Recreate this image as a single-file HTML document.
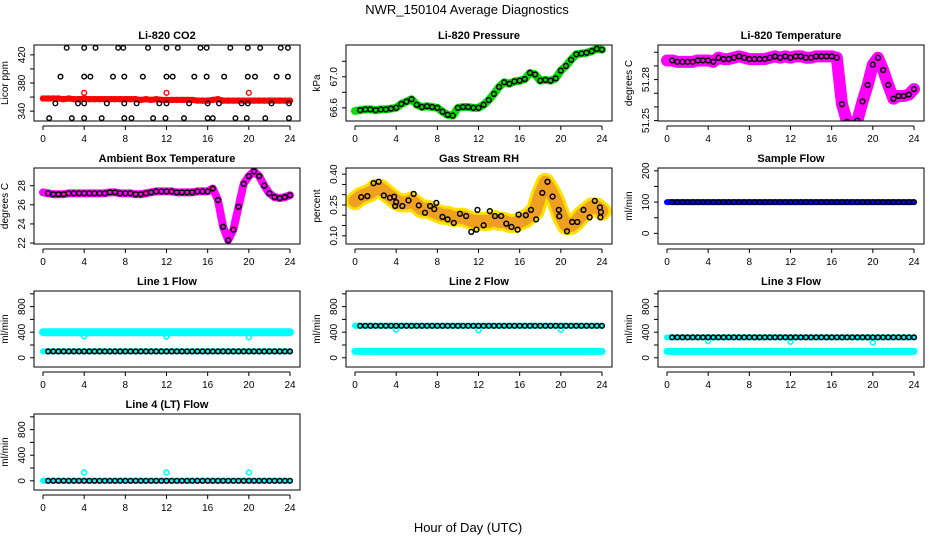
<!DOCTYPE html>
<html><head><meta charset="utf-8">
<style>
html,body{margin:0;padding:0;background:#fff;}
svg{display:block;font-family:"Liberation Sans",sans-serif;}
</style></head>
<body>
<svg id="chart" width="936" height="540" viewBox="0 0 936 540" xmlns="http://www.w3.org/2000/svg">
<text x="467" y="14" text-anchor="middle" font-size="13">NWR_150104  Average Diagnostics</text>
<text x="468" y="532" text-anchor="middle" font-size="13">Hour of Day (UTC)</text>
</svg>
<script>
const hours = [0,0.5,1,1.5,2,2.5,3,3.5,4,4.5,5,5.5,6,6.5,7,7.5,8,8.5,9,9.5,10,10.5,11,11.5,12,12.5,13,13.5,14,14.5,15,15.5,16,16.5,17,17.5,18,18.5,19,19.5,20,20.5,21,21.5,22,22.5,23,23.5,24];
const xTicks = [0,4,8,12,16,20,24];

// CO2
const co2Red = [358,358,358,358,357,358,357,357,358,357,357,357,357,357,357,357,357,357,357,356,357,356,357,356,356,356,356,356,356,356,355,355,355,356,357,355,355,355,355,355,355,355,355,355,355,355,355,355,355];
const co2RedSpikeHours = [4,12,20];
const co2RedSpikeValues = [366,366,366];
const co2BlackHours = [2.3,4,5.1,7.3,7.8,10.2,12,13.1,15.3,15.9,18.2,19.9,21.1,23.1,23.8, 1.7,4,4.6,6.8,7.9,9.7,12,12.6,14.7,15.9,17.6,19.9,20.6,22.7,23.8, 1.2,3.4,4,6.2,7.9,9.1,11.3,12,14.2,16,17.1,19.3,19.9,22.2,23.9, 0.6,2.8,4,5.7,7.9,8.6,10.7,11.9,13.7,16,16.5,18.7,19.8,21.6,23.9];
const co2BlackValues = [430,430,430,430,430,430,430,430,430,430,430,430,430,430,430, 389,389,389,389,389,389,389,389,389,389,389,389,389,389,389, 351,351,351,351,351,351,351,351,351,351,351,351,351,351,351, 330,330,330,330,330,330,330,330,330,330,330,330,330,330,330];

// Pressure
const pressure = [66.56,66.57,66.58,66.58,66.57,66.58,66.58,66.59,66.60,66.65,66.68,66.71,66.64,66.61,66.62,66.61,66.60,66.55,66.51,66.50,66.60,66.61,66.61,66.60,66.60,66.64,66.70,66.78,66.87,66.93,66.91,66.94,66.95,66.97,67.05,67.03,66.95,66.96,66.95,66.98,67.08,67.14,67.22,67.29,67.30,67.31,67.33,67.36,67.35];

// Li-820 temperature
const licorTemp = [51.294,51.294,51.293,51.293,51.293,51.293,51.294,51.294,51.294,51.293,51.296,51.295,51.295,51.296,51.297,51.296,51.295,51.295,51.295,51.295,51.296,51.297,51.296,51.297,51.296,51.297,51.297,51.296,51.296,51.297,51.297,51.297,51.297,51.296,51.262,51.249,51.248,51.250,51.264,51.276,51.291,51.296,51.287,51.276,51.266,51.268,51.268,51.269,51.273];

// Ambient box temperature
const ambientTemp = [27.3,27.2,27.1,27.1,27.1,27.2,27.2,27.2,27.2,27.2,27.2,27.2,27.2,27.3,27.3,27.2,27.2,27.2,27.1,27.1,27.2,27.3,27.4,27.4,27.4,27.4,27.3,27.3,27.3,27.3,27.4,27.4,27.4,27.7,26.5,23.7,22.3,23.4,25.8,28.2,29.0,29.5,29.0,28.0,27.2,26.8,26.7,26.8,27.0];

// Gas stream RH
const rhBand = [0.27,0.29,0.30,0.31,0.33,0.33,0.31,0.29,0.27,0.26,0.26,0.27,0.25,0.23,0.23,0.22,0.21,0.20,0.20,0.19,0.19,0.19,0.18,0.17,0.17,0.17,0.17,0.18,0.17,0.17,0.16,0.16,0.17,0.18,0.20,0.22,0.30,0.36,0.32,0.27,0.20,0.15,0.15,0.17,0.20,0.22,0.24,0.24,0.22];
const rhBlackHours = [0.6,1.2,1.8,2.3,2.8,3.4,3.8,3.9,4,4.6,5.2,5.7,6.2,6.8,7.3,7.7,7.9,8.5,9.0,9.6,10.2,10.8,11.3,11.8,11.9,12.5,13.1,13.6,14.2,14.7,15.2,15.8,15.9,16.6,17.1,17.6,18.2,18.7,19.2,19.8,19.85,20.6,21.1,21.6,22.2,22.8,23.3,23.8,23.85,23.9];
const rhBlackValues = [0.288,0.293,0.356,0.363,0.296,0.285,0.29,0.245,0.264,0.245,0.272,0.304,0.248,0.212,0.245,0.23,0.26,0.192,0.18,0.163,0.207,0.196,0.119,0.13,0.226,0.151,0.22,0.196,0.196,0.159,0.143,0.13,0.203,0.2,0.226,0.18,0.309,0.363,0.291,0.226,0.195,0.122,0.167,0.167,0.226,0.19,0.27,0.238,0.19,0.215];

// Flows
const sampleFlow = [100,100,100,100,100,100,100,100,100,100,100,100,100,100,100,100,100,100,100,100,100,100,100,100,100,100,100,100,100,100,100,100,100,100,100,100,100,100,100,100,100,100,100,100,100,100,100,100,100];
const line1Cyan = [400,400,400,400,400,400,400,400,400,400,400,400,400,400,400,400,400,400,400,400,400,400,400,400,400,400,400,400,400,400,400,400,400,400,400,400,400,400,400,400,400,400,400,400,400,400,400,400,400];
const line1Black = [100,100,100,100,100,100,100,100,100,100,100,100,100,100,100,100,100,100,100,100,100,100,100,100,100,100,100,100,100,100,100,100,100,100,100,100,100,100,100,100,100,100,100,100,100,100,100,100,100];
const line1DipValues = [335,330,320];
const line2Cyan = [500,500,500,500,500,500,500,500,500,500,500,500,500,500,500,500,500,500,500,500,500,500,500,500,500,500,500,500,500,500,500,500,500,500,500,500,500,500,500,500,500,500,500,500,500,500,500,500,500];
const line2Low = [100,100,100,100,100,100,100,100,100,100,100,100,100,100,100,100,100,100,100,100,100,100,100,100,100,100,100,100,100,100,100,100,100,100,100,100,100,100,100,100,100,100,100,100,100,100,100,100,100];
const line2DipValues = [440,430,440];
const line3Black = [320,320,320,320,320,320,320,320,320,320,320,320,320,320,320,320,320,320,320,320,320,320,320,320,320,320,320,320,320,320,320,320,320,320,320,320,320,320,320,320,320,320,320,320,320,320,320,320,320];
const line3Low = [100,100,100,100,100,100,100,100,100,100,100,100,100,100,100,100,100,100,100,100,100,100,100,100,100,100,100,100,100,100,100,100,100,100,100,100,100,100,100,100,100,100,100,100,100,100,100,100,100];
const line3DipValues = [260,250,240];
const line4Black = [0,0,0,0,0,0,0,0,0,0,0,0,0,0,0,0,0,0,0,0,0,0,0,0,0,0,0,0,0,0,0,0,0,0,0,0,0,0,0,0,0,0,0,0,0,0,0,0,0];
const line4SpikeValues = [130,130,130];
const dipHours = [4,12,20];

const svg = document.getElementById('chart');
const NS = 'http://www.w3.org/2000/svg';
function mk(tag, attrs, parent){const e=document.createElementNS(NS,tag);for(const k in attrs)e.setAttribute(k,attrs[k]);(parent||svg).appendChild(e);return e;}

const colLeft=[34,346,658], rowTop=[45,168,291,414], BW=266, BH=76;
let clipId=0;
function makePanel(col,row,title,ylab,ymin,ymax,ticks,labels,name){
  const L=colLeft[col],T=rowTop[row],B=T+BH,R=L+BW;
  const g=mk('g',{});
  
  
  const xs=h=>L+9+h*(247/24);
  const ys=v=>B-(v-ymin)/(ymax-ymin)*BH;
  const t=mk('text',{x:(L+R)/2,y:T-6,'text-anchor':'middle','font-size':11,'font-weight':'bold'},g);
  t.textContent=title;
  
  
  const yl=mk('text',{x:0,y:0,'text-anchor':'middle','font-size':10,transform:`translate(${L-26},${(T+B)/2}) rotate(-90)`},g);
  yl.textContent=ylab;
  
  
  const xa=mk('line',{x1:xs(0),x2:xs(24),y1:B+5,y2:B+5,stroke:'#000'},g);
  
  
  xTicks.forEach(h=>{
    mk('line',{x1:xs(h),x2:xs(h),y1:B+5,y2:B+9,stroke:'#000'},g);
    const lt=mk('text',{x:xs(h),y:B+21,'text-anchor':'middle','font-size':10},g);
    lt.textContent=h;
    
    
  });
  const lo=ys(ticks[0]),hi=ys(ticks[ticks.length-1]);
  mk('line',{x1:L,x2:L,y1:lo,y2:hi,stroke:'#000'},g);
  ticks.forEach(v=>{
    mk('line',{x1:L-4,x2:L,y1:ys(v),y2:ys(v),stroke:'#000'},g);
  });
  labels.forEach(v=>{
    const lt=mk('text',{x:0,y:0,'text-anchor':'middle','font-size':10,transform:`translate(${L-9},${ys(v)}) rotate(-90)`},g);
    lt.textContent=v;
    
    
  });
  clipId++;
  const cp=mk('clipPath',{id:'c'+clipId},g);
  mk('rect',{x:L,y:T,width:BW,height:BH},cp);
  const plot=mk('g',{'clip-path':`url(#c${clipId})`},g);
  const box=mk('rect',{x:L,y:T,width:BW,height:BH,fill:'none',stroke:'#000'},g);
  
  
  return {xs,ys,plot};
}
function band(p,hs,vals,color,w,name){
  const pts=hs.map((h,i)=>p.xs(h)+','+p.ys(vals[i])).join(' ');
  const pl=mk('polyline',{points:pts,fill:'none',stroke:color,'stroke-width':w,'stroke-linejoin':'round','stroke-linecap':'round'},p.plot);
  
  
}
function circles(p,hs,vals,color,r,sw,name){
  hs.forEach((h,i)=>{
    const c=mk('circle',{cx:p.xs(h),cy:p.ys(vals[i]),r:r,fill:'none',stroke:color,'stroke-width':sw},p.plot);
    
    
  });
}
const hb=hours.slice(1);
const sub=a=>a.slice(1);

let p=makePanel(0,0,'Li-820 CO2','Licor ppm',326,434,[340,360,380,400,420],[340,380,420],'co2');
band(p,hours,co2Red,'#ff0000',6,'co2-red-band');
circles(p,hours,co2Red,'#ff0000',2.4,1.6,'co2-red-point');
circles(p,co2RedSpikeHours,co2RedSpikeValues,'#ff0000',2.4,1.4,'co2-red-spike');
circles(p,co2BlackHours,co2BlackValues,'#000',2.3,1.4,'co2-black-point');

p=makePanel(1,0,'Li-820 Pressure','kPa',66.43,67.41,[66.6,66.8,67.0,67.2],['66.6','67.0'],'pressure');
band(p,hours,pressure,'#00dd00',8,'pressure-green-band');
circles(p,hb,sub(pressure),'#000',2.4,1.5,'pressure-black-point');

p=makePanel(2,0,'Li-820 Temperature','degrees C',51.2497,51.3053,[51.25,51.26,51.27,51.28,51.29,51.30],['51.25','51.28'],'licor-temp');
band(p,hours,licorTemp,'#ff00ff',12,'licor-temp-magenta-band');
circles(p,hb,sub(licorTemp),'#000',2.4,1.5,'licor-temp-black-point');

p=makePanel(0,1,'Ambient Box Temperature','degrees C',21.9,29.85,[22,24,26,28],[22,24,26,28],'ambient-temp');
band(p,hours,ambientTemp,'#ff00ff',8,'ambient-magenta-band');
circles(p,hb,sub(ambientTemp),'#000',2.4,1.5,'ambient-black-point');

p=makePanel(1,1,'Gas Stream RH','percent',0.06,0.43,[0.10,0.15,0.20,0.25,0.30,0.35,0.40],['0.10','0.25','0.40'],'rh');
band(p,hours,rhBand,'#ffe000',19,'rh-yellow-band');
band(p,hours,rhBand,'#f0a020',13,'rh-orange-band');
circles(p,rhBlackHours,rhBlackValues,'#000',2.4,1.5,'rh-black-point');

p=makePanel(2,1,'Sample Flow','ml/min',-34,209,[0,50,100,150,200],[0,100,200],'sample-flow');
band(p,hours,sampleFlow,'#0000ff',6,'sample-blue-band');
circles(p,hb,sub(sampleFlow),'#000',2.3,1.4,'sample-black-point');

const fTicks=[0,200,400,600,800,1000], fLabels=[0,400,800];
p=makePanel(0,2,'Line 1 Flow','ml/min',-144,1044,fTicks,fLabels,'line1');
band(p,hours,line1Cyan,'#00ffff',8,'line1-cyan-band');
band(p,hours,line1Black,'#00ffff',6,'line1-cyan-low-band');
circles(p,dipHours,line1DipValues,'#00ffff',2.4,1.6,'line1-cyan-dip');
circles(p,hb,sub(line1Black),'#000',2.3,1.6,'line1-black-point');

p=makePanel(1,2,'Line 2 Flow','ml/min',-144,1044,fTicks,fLabels,'line2');
band(p,hours,line2Cyan,'#00ffff',6,'line2-cyan-band');
band(p,hours,line2Low,'#00ffff',7,'line2-cyan-low-band');
circles(p,dipHours,line2DipValues,'#00ffff',2.4,1.6,'line2-cyan-dip');
circles(p,hb,sub(line2Cyan),'#000',2.3,1.5,'line2-black-point');

p=makePanel(2,2,'Line 3 Flow','ml/min',-144,1044,fTicks,fLabels,'line3');
band(p,hours,line3Black,'#00ffff',6,'line3-cyan-band');
band(p,hours,line3Low,'#00ffff',7,'line3-cyan-low-band');
circles(p,dipHours,line3DipValues,'#00ffff',2.4,1.6,'line3-cyan-dip');
circles(p,hb,sub(line3Black),'#000',2.3,1.6,'line3-black-point');

p=makePanel(0,3,'Line 4 (LT) Flow','ml/min',-144,1044,fTicks,fLabels,'line4');
band(p,hours,line4Black,'#00ffff',6,'line4-cyan-band');
circles(p,dipHours,line4SpikeValues,'#00ffff',2.4,1.6,'line4-cyan-spike');
circles(p,hb,sub(line4Black),'#000',2.3,1.5,'line4-black-point');
</script>
</body></html>
